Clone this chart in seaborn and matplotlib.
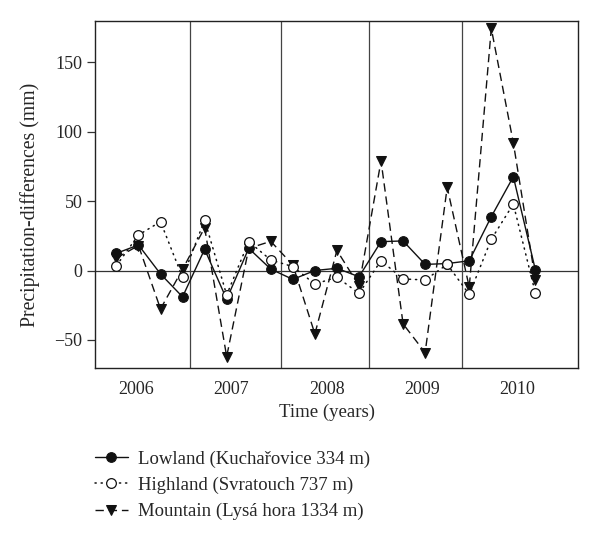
import numpy as np
import pandas as pd
import matplotlib
matplotlib.use("Agg")
import matplotlib.pyplot as plt
import seaborn as sns

# quarterly precipitation differences, 4 seasons per year (2006-2010)
season = np.arange(20)
lowland = [12.4, 18.4, -2.5, -19.0, 15.3, -20.7, 16.0, 1.0, -6.4, 0.0,
           1.6, -4.5, 20.8, 21.3, 4.4, 5.0, 7.0, 38.8, 67.6, 0.4]
highland = [3.5, 25.6, 35.2, -5.0, 36.4, -17.6, 20.8, 7.6, 2.8, -9.8,
            -4.8, -16.5, 7.1, -6.1, -6.8, 4.4, -17.2, 22.5, 47.9, -16.4]
mountain = [9.0, 18.0, -27.7, 0.9, 30.8, -62.0, 16.0, 21.0, 4.0, -45.7,
            14.5, -11.0, 79.0, -38.5, -59.2, 60.0, -12.0, 174.5, 92.0, -6.8]

years = ["2006", "2007", "2008", "2009", "2010"]
year_pos = [0.91, 5.22, 9.56, 13.85, 18.16]
year_breaks = [3.34, 7.48, 11.44, 15.65]

labels = ["Lowland (Kuchařovice 334 m)",
          "Highland (Svratouch 737 m)",
          "Mountain (Lysá hora 1334 m)"]

df = pd.DataFrame({"season": season, "low": lowland,
                   "high": highland, "mount": mountain})

sns.set_style("ticks")
plt.rcParams["font.family"] = ["Liberation Serif", "DejaVu Serif"]
plt.rcParams["axes.unicode_minus"] = True

fig = plt.figure(figsize=(6.0, 5.38), dpi=100)
ax = fig.add_axes([0.158, 0.3154, 0.806, 0.646])

ax.axhline(0, color="#333333", lw=0.9, zorder=1)
for b in year_breaks:
    ax.axvline(b, color="#444444", lw=0.9, zorder=1)

sns.lineplot(data=df, x="season", y="mount", ax=ax, color="#111111",
             lw=1.0, linestyle=(0, (6, 3.5)), marker="v", markersize=7.5,
             markerfacecolor="#111111", markeredgecolor="#111111",
             label=labels[2], zorder=3)
sns.lineplot(data=df, x="season", y="low", ax=ax, color="#111111",
             lw=1.0, linestyle="-", marker="o", markersize=7,
             markerfacecolor="#111111", markeredgecolor="#111111",
             label=labels[0], zorder=4)
sns.lineplot(data=df, x="season", y="high", ax=ax, color="#111111",
             lw=1.1, linestyle=(0, (0.8, 3.2)), dash_capstyle="round",
             marker="o", markersize=7, markerfacecolor="white",
             markeredgecolor="#111111", markeredgewidth=0.9,
             label=labels[1], zorder=5)

ax.set_xlim(-0.98, 20.95)
ax.set_ylim(-70.5, 180)
ax.set_yticks([-50, 0, 50, 100, 150])
ax.set_xticks(year_pos)
ax.set_xticklabels(years)
ax.tick_params(axis="x", length=0, pad=9, labelsize=13)
ax.tick_params(axis="y", length=6, width=0.9, pad=3, labelsize=13,
               color="#333333")
for s in ax.spines.values():
    s.set_color("#222222")
    s.set_linewidth(1.0)

ax.set_xlabel("Time (years)", fontsize=13.5)
ax.set_ylabel("Precipitation-differences (mm)", fontsize=14.2)
ax.xaxis.set_label_coords(0.48, -0.103)
ax.yaxis.set_label_coords(-0.114, 0.47)

ax.get_legend().remove()
h, l = ax.get_legend_handles_labels()
order = [l.index(x) for x in labels]
fig.legend([h[i] for i in order], [l[i] for i in order],
           loc="upper left", bbox_to_anchor=(0.145, 0.177), frameon=False,
           fontsize=13.5, handlelength=1.8, handletextpad=0.5,
           labelspacing=0.48, borderaxespad=0)

fig.savefig("out.png", dpi=100)
